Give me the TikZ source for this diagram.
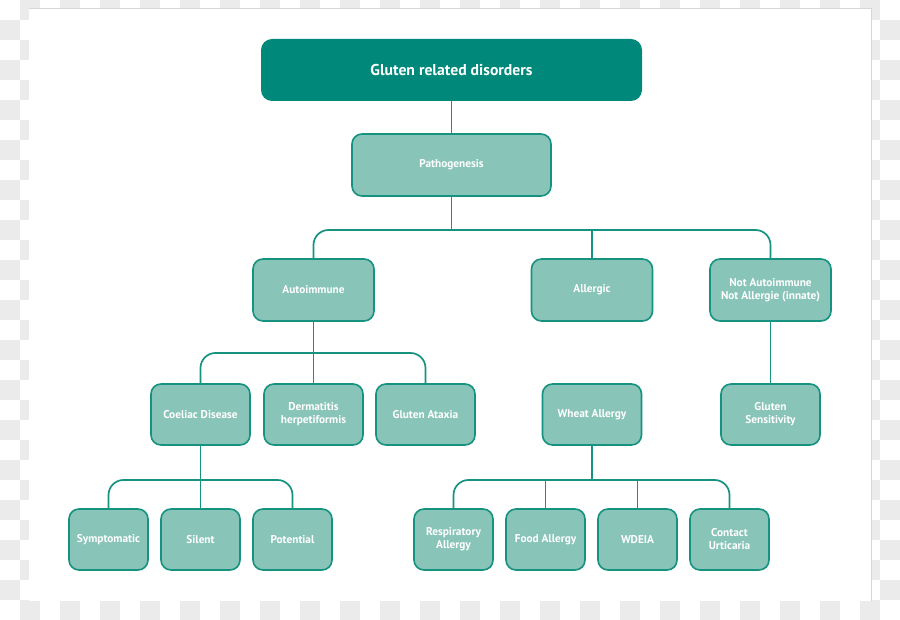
\documentclass[tikz,border=0pt]{standalone}
\usepackage{fontspec}
\setmainfont{PT Sans}
\definecolor{darkteal}{RGB}{0,137,122}
\definecolor{lightteal}{RGB}{136,196,184}
\definecolor{lineteal}{RGB}{22,146,128}
\definecolor{checkgray}{RGB}{235,235,235}
\definecolor{edgegray}{RGB}{214,214,214}
\tikzset{
  box/.style={rectangle, rounded corners=10pt, draw=lineteal, line width=1.6pt,
    fill=lightteal, text=white, font=\bfseries\fontsize{11.3}{13}\selectfont,
    align=center, inner sep=0pt},
  bigbox/.style={box, minimum width=121pt, minimum height=62pt},
  midbox/.style={box, minimum width=99pt, minimum height=61pt},
  smallbox/.style={box, minimum width=79pt, minimum height=61pt},
  titlebox/.style={rectangle, rounded corners=11pt, fill=darkteal, text=white,
    font=\bfseries\fontsize{15.7}{18}\selectfont, minimum width=381pt, minimum height=62pt, inner sep=0pt},
  link/.style={draw=lineteal, line width=1.7pt},
  branch/.style={link, rounded corners=15pt}
}
\begin{document}
\begin{tikzpicture}[x=1pt,y=-1pt]
\useasboundingbox (0,0) rectangle (900,620);
% checkerboard background
\foreach \i in {0,...,44}{
  \foreach \j in {0,...,30}{
    \pgfmathtruncatemacro{\p}{mod(\i+\j,2)}
    \ifnum\p=1 \fill[checkgray] (\i*20,\j*20) rectangle ++(20,20);\fi
  }
}
\fill[white] (29,8) rectangle (871,601);
\draw[edgegray, line width=0.8pt] (29,8) -- (871,8) -- (871,601);

% nodes
\node[titlebox] (top) at (451.5,70) {Gluten related disorders};
\node[box, minimum width=199pt, minimum height=62pt] (path) at (451.5,165) {Pathogenesis};
\node[bigbox] (auto) at (313.5,290) {Autoimmune};
\node[bigbox] (allergic) at (592,290) {Allergic};
\node[bigbox] (notauto) at (770.5,290) {Not Autoimmune\\Not Allergie (innate)};
\node[midbox] (coeliac) at (200.5,414.5) {Coeliac Disease};
\node[midbox] (derm) at (313.5,414.5) {Dermatitis\\herpetiformis};
\node[midbox] (ataxia) at (425.5,414.5) {Gluten Ataxia};
\node[midbox] (wheat) at (592,414.5) {Wheat Allergy};
\node[midbox] (gsens) at (770.5,414.5) {Gluten\\Sensitivity};
\node[smallbox] (symp) at (108.5,539.5) {Symptomatic};
\node[smallbox] (silent) at (200.5,539.5) {Silent};
\node[smallbox] (potential) at (292.5,539.5) {Potential};
\node[smallbox] (resp) at (453.5,539.5) {Respiratory\\Allergy};
\node[smallbox] (food) at (545.5,539.5) {Food Allergy};
\node[smallbox] (wdeia) at (637.5,539.5) {WDEIA};
\node[smallbox] (contact) at (729.5,539.5) {Contact\\Urticaria};

% connectors
\coordinate (j1) at (451.5,230);
\coordinate (j2) at (313.5,353);
\coordinate (j3) at (200.5,480);
\coordinate (j4) at (592,480);

\draw[link] (top.south) -- (path.north);
\draw[link] (path.south) -- (j1);
\draw[branch] (auto.north) |- (j1) -| (notauto.north);
\draw[link] (allergic.north) -- (allergic.north |- j1);

\draw[link] (auto.south) -- (derm.north);
\draw[branch] (coeliac.north) |- (j2) -| (ataxia.north);

\draw[link] (coeliac.south) -- (silent.north);
\draw[branch] (symp.north) |- (j3) -| (potential.north);

\draw[link] (wheat.south) -- (j4);
\draw[branch] (resp.north) |- (j4) -| (contact.north);
\draw[link] (food.north) -- (food.north |- j4);
\draw[link] (wdeia.north) -- (wdeia.north |- j4);

\draw[link] (notauto.south) -- (gsens.north);
\end{tikzpicture}
\end{document}
